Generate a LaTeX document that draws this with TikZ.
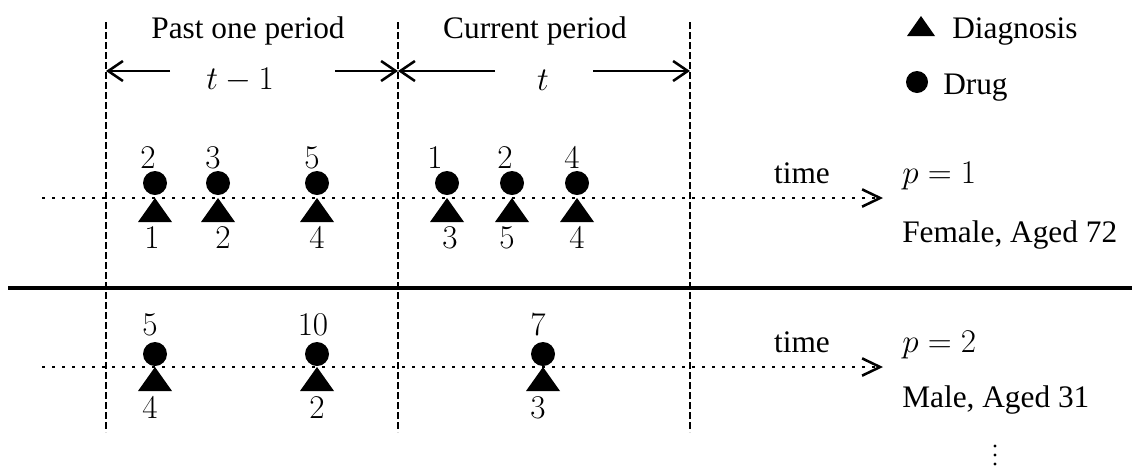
\documentclass[tikz,border=0pt]{standalone}
\usepackage{fontspec}
\setmainfont{Liberation Serif}
\usetikzlibrary{arrows.meta}
\begin{document}
\begin{tikzpicture}[x=0.75pt,y=-0.75pt,
  font=\fontsize{23.5}{28}\selectfont,
  dashv/.style={line width=2.1pt, dash pattern=on 5.4pt off 2.1pt},
  dotl/.style={line width=2.2pt, dash pattern=on 2.2pt off 5.3pt, -{Straight Barb[length=13.5pt,width=13pt,line width=1.9pt]}},
  parrow/.style={line width=1.9pt, -{Straight Barb[length=11pt,width=15pt]}},
  drug/.style={circle, fill=black, inner sep=0pt, minimum size=18pt},
  num/.style={inner sep=0pt, anchor=center},
  txt/.style={inner sep=0pt}]
\useasboundingbox (0,0) rectangle (1132,465);

% period boundaries
\coordinate (b1t) at (106,22);  \coordinate (b1b) at (106,432);
\coordinate (b2t) at (398,22);  \coordinate (b2b) at (398,432);
\coordinate (b3t) at (690,22);  \coordinate (b3b) at (690,432);
\draw[dashv] (b1t) -- (b1b);
\draw[dashv] (b2t) -- (b2b);
\draw[dashv] (b3t) -- (b3b);

% separator
\coordinate (sepl) at (8,288); \coordinate (sepr) at (1132,288);
\draw[line width=2.4pt] (sepl) -- (sepr);

% period headers
\node[txt, anchor=base] (past) at (248,38) {Past one period};
\node[txt, anchor=base] (curr) at (535,38) {Current period};
\node[txt] (tm1) at (240,80) {$t-1$};
\node[txt] (tt) at (543,80) {$t$};
\coordinate (a1l) at (106,71); \coordinate (a1s) at (170,71);
\coordinate (a1e) at (335,71); \coordinate (a1r) at (398,71);
\coordinate (a2l) at (398,71); \coordinate (a2s) at (495,71);
\coordinate (a2e) at (593,71); \coordinate (a2r) at (690,71);
\draw[parrow] (a1s) -- (a1l);
\draw[parrow] (a1e) -- (a1r);
\draw[parrow] (a2s) -- (a2l);
\draw[parrow] (a2e) -- (a2r);

% legend
\fill (907,36) -- (921,16) -- (935,36) -- cycle;
\node[txt, anchor=base west] (ldiag) at (952,38) {Diagnosis};
\node[drug, minimum size=16.5pt] (ldrug) at (917,82) {};
\node[txt, anchor=base west] (ldrugt) at (943,94) {Drug};

% time lines
\coordinate (r1s) at (42,198); \coordinate (r1e) at (883,198);
\coordinate (r2s) at (42,367); \coordinate (r2e) at (883,367);
\draw[dotl] (r1s) -- (r1e);
\draw[dotl] (r2s) -- (r2e);

% row 1 events
\foreach \x/\t/\tx/\b/\bx in {155/2/148/1/152, 218/3/213/2/223, 317/5/312/4/317,
                              447/1/435/3/450, 512/2/505/5/507, 577/4/572/4/577}{
  \fill (\x-17,222) -- (\x,198) -- (\x+17,222) -- cycle;
  \node[drug] (c1-\x) at (\x,183) {};
  \node[num] (t1-\x) at (\tx,158) {$\t$};
  \node[num] (u1-\x) at (\bx,238) {$\b$};
}
% row 2 events
\foreach \x/\t/\tx/\b/\bx in {155/5/150/4/150, 317/10/313/2/317, 543/7/538/3/538}{
  \fill (\x-17,391) -- (\x,367) -- (\x+17,391) -- cycle;
  \node[drug] (c2-\x) at (\x,354) {};
  \node[num] (t2-\x) at (\tx,325) {$\t$};
  \node[num] (u2-\x) at (\bx,408) {$\b$};
}

% right labels
\node[txt, anchor=base] (time1) at (802,183) {time};
\node[txt, anchor=base west] (p1) at (902,183) {$p=1$};
\node[txt, anchor=base west] (who1) at (902,242) {Female, Aged 72};
\node[txt, anchor=base] (time2) at (802,352) {time};
\node[txt, anchor=base west] (p2) at (902,352) {$p=2$};
\node[txt, anchor=base west] (who2) at (902,407) {Male, Aged 31};

% continuation dots
\fill (995,446) circle (1.6);
\fill (995,455) circle (1.6);
\fill (995,464) circle (1.6);
\end{tikzpicture}
\end{document}
